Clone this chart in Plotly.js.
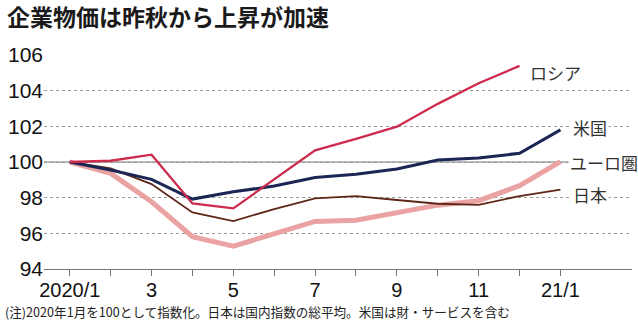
<!DOCTYPE html>
<html>
<head>
<meta charset="utf-8">
<script src="https://cdn.plot.ly/plotly-3.0.1.min.js"></script>
<style>html,body{margin:0;padding:0;background:#fff}#chart{width:638px;height:334px}</style>
</head>
<body>
<div id="chart"></div>
<script>
// months since 2020/1
const months = [0,1,2,3,4,5,6,7,8,9,10,11,12];
const tickLabels = ["2020/1","","3","","5","","7","","9","","11","","21/1"];
const yTicks = [94,96,98,100,102,104,106];

const russia = [100,100.07,100.41,97.68,97.4,99.0,100.65,101.3,101.98,103.26,104.42,105.39];
const usa    = [100,99.55,99.03,97.92,98.33,98.65,99.13,99.31,99.61,100.11,100.22,100.49,101.8];
const japan  = [100,99.64,98.76,97.17,96.69,97.36,97.96,98.09,97.87,97.66,97.6,98.09,98.45];
const euro   = [100,99.36,97.77,95.81,95.28,95.99,96.67,96.74,97.15,97.58,97.83,98.67,100.02];

const seriesNames = ["ロシア","米国","ユーロ圏","日本"];

const CJK = '"Noto Sans CJK JP", sans-serif';
const NUM = '"Liberation Sans Narrow", "Liberation Sans", "Noto Sans", sans-serif';

const traces = [
  {x: months.slice(0, euro.length), y: euro, mode:'lines', line:{color:'#eaa2a2', width:5}, name: seriesNames[2]},
  {x: months.slice(0, japan.length), y: japan, mode:'lines', line:{color:'#5e2718', width:1.8}, name: seriesNames[3]},
  {x: months.slice(0, usa.length), y: usa, mode:'lines', line:{color:'#1b2654', width:3}, name: seriesNames[1]},
  {x: months.slice(0, russia.length), y: russia, mode:'lines', line:{color:'#cc2b4c', width:2.3}, name: seriesNames[0]}
];

const labelFont = {family: CJK, size: 17, color: '#333'};
const layout = {
  width: 638, height: 334,
  margin: {l: 44, r: 6, t: 55, b: 65.3, pad: 0},
  paper_bgcolor: '#fff', plot_bgcolor: '#fff',
  showlegend: false,
  title: {text: '企業物価は昨秋から上昇が加速', x: 7/638, xanchor: 'left', xref: 'container',
          y: 1 - 18/334, yanchor: 'middle', yref: 'container',
          font: {family: CJK, size: 23, weight: 700, color: '#1a1a1a'}},
  xaxis: {
    range: [-0.63, 13.75], tickvals: months, ticktext: tickLabels,
    showgrid: false, zeroline: false, showline: true, linecolor: '#777', linewidth: 1,
    ticks: 'outside', ticklen: 6, tickcolor: '#777', tickwidth: 1, ticklabelstandoff: -3,
    tickfont: {family: NUM, size: 20, color: '#111'}, fixedrange: true
  },
  yaxis: {
    range: [94, 106], tickvals: yTicks, ticktext: yTicks.map(String),
    showgrid: true, gridcolor: '#9a9a9a', gridwidth: 1, griddash: '3px,3px',
    zeroline: false, showline: false, ticks: '',
    tickfont: {family: NUM, size: 21, color: '#111'}, fixedrange: true
  },
  shapes: [
    {type: 'line', xref: 'paper', x0: 0, x1: 1, yref: 'y', y0: 100, y1: 100,
     line: {color: '#777', width: 1.2}, layer: 'below'}
  ],
  annotations: [
    {xref:'x', yref:'y', x: 11.2, y: 105.02, xanchor:'left', yanchor:'middle', text: seriesNames[0], showarrow:false, font: labelFont, bgcolor:'#fff', borderpad:1},
    {xref:'x', yref:'y', x: 12.25, y: 101.91, xanchor:'left', yanchor:'middle', text: seriesNames[1], showarrow:false, font: labelFont, bgcolor:'#fff', borderpad:1},
    {xref:'x', yref:'y', x: 12.18, y: 99.96, xanchor:'left', yanchor:'middle', text: seriesNames[2], showarrow:false, font: labelFont, bgcolor:'#fff', borderpad:1},
    {xref:'x', yref:'y', x: 12.25, y: 98.15, xanchor:'left', yanchor:'middle', text: seriesNames[3], showarrow:false, font: labelFont, bgcolor:'#fff', borderpad:1},
    {xref:'paper', yref:'paper', x: -41/588, y: (268.7-311.5)/213.7, xanchor:'left', yanchor:'middle', showarrow:false,
     text: '(注)2020年1月を100として指数化。日本は国内指数の総平均。米国は財・サービスを含む',
     font: {family: CJK, size: 12.6, color: '#222'}}
  ]
};

Plotly.newPlot('chart', traces, layout, {staticPlot: true, displayModeBar: false});
</script>
</body>
</html>
